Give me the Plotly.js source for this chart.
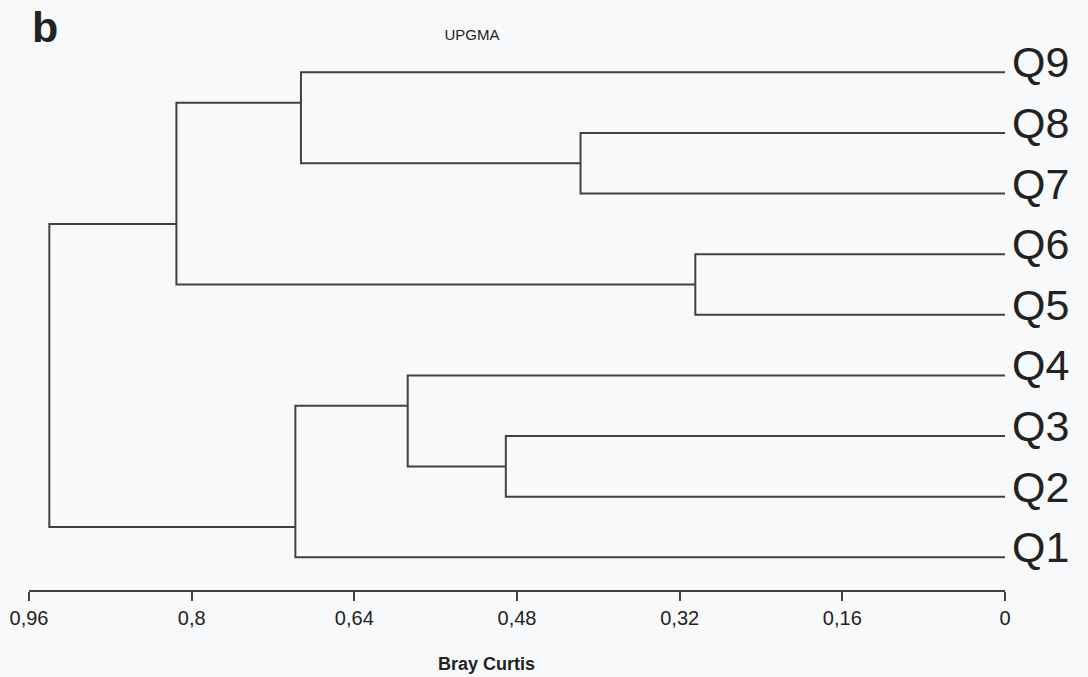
<!DOCTYPE html>
<html>
<head>
<meta charset="utf-8">
<script src="https://cdn.plot.ly/plotly-3.0.1.min.js"></script>
<style>
  html, body { margin: 0; padding: 0; background: #f8f9fa; }
  #chart { width: 1088px; height: 677px; }
</style>
</head>
<body>
<div id="chart"></div>
<script>
// Leaves, top to bottom
const leafLabels = ['Q9', 'Q8', 'Q7', 'Q6', 'Q5', 'Q4', 'Q3', 'Q2', 'Q1'];
// UPGMA merges (upper child, lower child, Bray Curtis distance); merge k creates node 'N' + (k+1)
const mergeLeft   = ['Q8', 'Q6', 'Q3', 'Q4', 'Q9', 'N4', 'N5', 'N7'];
const mergeRight  = ['Q7', 'Q5', 'Q2', 'N3', 'N1', 'Q1', 'N2', 'N6'];
const mergeHeight = [0.4175, 0.3046, 0.491, 0.5875, 0.6925, 0.698, 0.815, 0.940];
// Axis ticks
const tickVals = [0.96, 0.8, 0.64, 0.48, 0.32, 0.16, 0];
const tickText = ['0,96', '0,8', '0,64', '0,48', '0,32', '0,16', '0'];

const lineColor = '#424242';
const textColor = '#222222';
const fontFam = '"Liberation Sans", Arial, Helvetica, sans-serif';

// Build dendrogram segments
const info = {};
const n = leafLabels.length;
leafLabels.forEach((lab, i) => {
  const idx = n - i;
  info[lab] = { h: 0, yc: idx, top: idx, bottom: idx };
});
const xs = [], ys = [];
mergeLeft.forEach((l, k) => {
  const L = info[l], R = info[mergeRight[k]], h = mergeHeight[k];
  const yc = (L.bottom + R.top) / 2;
  xs.push(L.h, h, h, R.h, null);
  ys.push(L.yc, L.yc, R.yc, R.yc, null);
  info['N' + (k + 1)] = { h: h, yc: yc, top: L.top, bottom: R.bottom };
});

const traces = [{
  type: 'scatter', mode: 'lines', x: xs, y: ys,
  line: { color: lineColor, width: 2, shape: 'linear' },
  hoverinfo: 'skip', showlegend: false
}];

const annotations = leafLabels.map((lab, i) => ({
  text: lab, x: 0, y: n - i, xref: 'x', yref: 'y',
  xanchor: 'left', yanchor: 'middle', xshift: 5, yshift: 10,
  showarrow: false, font: { family: fontFam, size: 43, color: textColor }
}));
annotations.push({
  text: '<b>Bray Curtis</b>', xref: 'paper', yref: 'paper',
  x: (486 - 29) / 976, y: (590 - 664) / 550, xanchor: 'center', yanchor: 'middle',
  showarrow: false, font: { family: fontFam, size: 18, color: textColor }
});
annotations.push({
  text: '<b>b</b>', xref: 'paper', yref: 'paper',
  x: (45 - 29) / 976, y: (590 - 27) / 550, xanchor: 'center', yanchor: 'middle',
  showarrow: false, font: { family: fontFam, size: 43, color: textColor }
});

const layout = {
  width: 1088, height: 677,
  margin: { l: 29, r: 83, t: 40, b: 87, pad: 0 },
  paper_bgcolor: '#f8f9fa', plot_bgcolor: '#f8f9fa',
  showlegend: false,
  title: {
    text: 'UPGMA', xref: 'container', yref: 'container',
    x: 472 / 1088, xanchor: 'center', y: 1 - 35 / 677, yanchor: 'middle',
    font: { family: fontFam, size: 15, color: textColor }
  },
  xaxis: {
    range: [0.96, 0], showgrid: false, zeroline: false,
    showline: true, linecolor: lineColor, linewidth: 2,
    ticks: 'outside', ticklen: 9, tickwidth: 2, tickcolor: lineColor,
    tickmode: 'array', tickvals: tickVals, ticktext: tickText,
    tickfont: { family: fontFam, size: 20, color: textColor }
  },
  yaxis: {
    range: [0.461, 9.533], visible: false, showgrid: false, zeroline: false, fixedrange: true
  },
  annotations: annotations
};

Plotly.newPlot('chart', traces, layout, { staticPlot: true, displayModeBar: false });
</script>
</body>
</html>
